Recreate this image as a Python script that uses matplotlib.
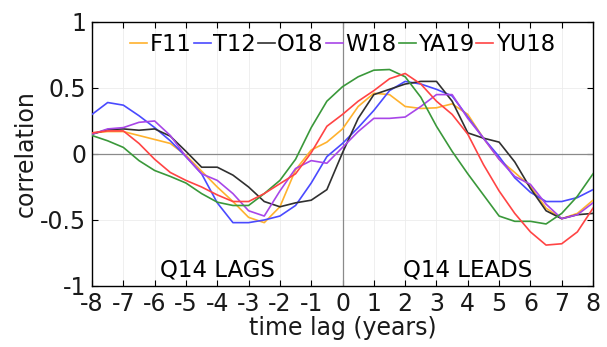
import numpy as np
import matplotlib
matplotlib.use("Agg")
import matplotlib.pyplot as plt

plt.rcParams['font.family'] = ['DejaVu Sans']
plt.rcParams['axes.unicode_minus'] = False

# time lag in years, read every half year
lag = np.arange(-8, 8.5, 0.5)

f11 = [0.16, 0.17, 0.17, 0.14, 0.11, 0.08, -0.01, -0.13, -0.25, -0.36, -0.48,
       -0.52, -0.40, -0.12, 0.03, 0.09, 0.19, 0.36, 0.46, 0.45, 0.36, 0.345,
       0.35, 0.38, 0.30, 0.12, -0.04, -0.14, -0.245, -0.41, -0.49, -0.45, -0.35]
t12 = [0.30, 0.39, 0.37, 0.29, 0.20, 0.10, -0.02, -0.15, -0.37, -0.52, -0.52,
       -0.50, -0.47, -0.39, -0.22, -0.02, 0.08, 0.20, 0.33, 0.48, 0.55, 0.53,
       0.49, 0.44, 0.28, 0.12, -0.02, -0.18, -0.29, -0.36, -0.36, -0.33, -0.27]
o18 = [0.15, 0.185, 0.19, 0.18, 0.19, 0.135, 0.02, -0.10, -0.10, -0.16, -0.25,
       -0.36, -0.40, -0.37, -0.35, -0.27, 0.01, 0.27, 0.45, 0.49, 0.53, 0.55,
       0.55, 0.40, 0.16, 0.12, 0.09, -0.06, -0.26, -0.43, -0.49, -0.46, -0.45]
w18 = [0.15, 0.19, 0.20, 0.24, 0.25, 0.14, -0.02, -0.15, -0.20, -0.30, -0.43,
       -0.47, -0.28, -0.11, -0.05, -0.07, 0.05, 0.17, 0.27, 0.27, 0.28, 0.36,
       0.45, 0.45, 0.27, 0.12, -0.04, -0.17, -0.23, -0.38, -0.49, -0.46, -0.37]
ya19 = [0.14, 0.10, 0.05, -0.05, -0.125, -0.17, -0.22, -0.30, -0.365, -0.39, -0.39,
        -0.30, -0.20, -0.04, 0.20, 0.40, 0.51, 0.585, 0.635, 0.64, 0.585, 0.43,
        0.21, 0.02, -0.15, -0.31, -0.47, -0.51, -0.51, -0.53, -0.45, -0.32, -0.15]
yu18 = [0.16, 0.175, 0.175, 0.08, -0.04, -0.14, -0.20, -0.25, -0.31, -0.36, -0.36,
        -0.30, -0.225, -0.15, 0.01, 0.21, 0.30, 0.40, 0.48, 0.57, 0.61, 0.53,
        0.40, 0.30, 0.15, -0.08, -0.28, -0.45, -0.59, -0.69, -0.68, -0.59, -0.41]

names = ['F11', 'T12', 'O18', 'W18', 'YA19', 'YU18']
series = [f11, t12, o18, w18, ya19, yu18]
colors = ['#ffb22e', '#4a4aff', '#303030', '#a846e8', '#3a983a', '#ff4444']

fig = plt.figure(figsize=(6.07, 3.47), dpi=100)
ax = fig.add_axes([0.1516, 0.1758, 0.8254, 0.7608])

ax.set_xlim(-8, 8)
ax.set_ylim(-1, 1)
ax.set_xticks(np.arange(-8, 9, 1))
ax.set_yticks([-1, -0.5, 0, 0.5, 1])
ax.set_yticklabels(['-1', '-0.5', '0', '0.5', '1'])
ax.grid(True, color='#ececec', linewidth=0.6)
ax.set_axisbelow(True)

ax.axhline(0, color='#8a8a8a', linewidth=0.9, zorder=1)
ax.axvline(0, color='#8a8a8a', linewidth=0.9, zorder=1)

for name, vals, c in zip(names, series, colors):
    ax.plot(lag, vals, color=c, linewidth=1.2, label=name, zorder=3,
            solid_joinstyle='round')

ax.tick_params(direction='in', top=True, right=True, length=4, width=0.8,
               labelsize=17, pad=4, labelcolor='#1a1a1a')
for s in ax.spines.values():
    s.set_linewidth(1.0)
    s.set_color('black')

ax.set_xlabel('time lag (years)', fontsize=17, labelpad=0, color='#1a1a1a')
ax.set_ylabel('correlation', fontsize=17, labelpad=2, color='#1a1a1a')

ax.text(-4, -0.88, 'Q14 LAGS', fontsize=16.5, ha='center', va='center')
ax.text(4, -0.88, 'Q14 LEADS', fontsize=16.5, ha='center', va='center')

ax.legend(loc='upper center', bbox_to_anchor=(0.5, 1.02), ncol=6, frameon=False,
          fontsize=16.3, handlelength=0.75, handletextpad=0.1, columnspacing=0.1,
          borderpad=0.2)

fig.savefig('out.png', dpi=100)
